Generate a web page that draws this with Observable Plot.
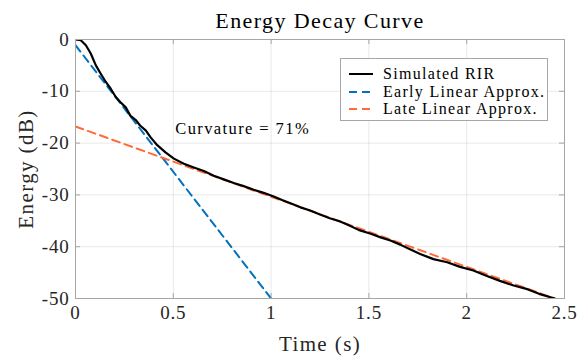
<!DOCTYPE html>
<html>
<head>
<meta charset="utf-8">
<script src="https://cdn.jsdelivr.net/npm/d3@7"></script>
<script src="https://cdn.jsdelivr.net/npm/@observablehq/plot@0.6"></script>
</head>
<body style="margin:0;padding:0;background:#fff">
<div id="wrap" style="position:relative;width:584px;height:358px;font-family:'Liberation Serif',serif;color:#000"></div>
<script>
// ---- data ----
const rirTime = [0, 0.027, 0.053, 0.078, 0.104, 0.129, 0.155, 0.18, 0.206, 0.23, 0.257, 0.28, 0.31, 0.33, 0.36, 0.384, 0.418, 0.46, 0.503, 0.554, 0.605, 0.656, 0.707, 0.758, 0.809, 0.86, 0.911, 0.962, 1.013, 1.056, 1.099, 1.15, 1.20, 1.25, 1.30, 1.35, 1.40, 1.45, 1.51, 1.56, 1.61, 1.66, 1.71, 1.762, 1.83, 1.90, 1.966, 2.034, 2.10, 2.17, 2.24, 2.31, 2.37, 2.45];
const rirEnergy = [0, -0.15, -1.1, -2.7, -5.0, -6.6, -8.2, -9.5, -11.1, -12.1, -13.1, -14.7, -15.6, -16.6, -17.6, -18.9, -20.4, -21.8, -23.0, -24.0, -24.7, -25.4, -26.3, -27.0, -27.7, -28.3, -29.0, -29.6, -30.3, -31.0, -31.6, -32.4, -33.0, -33.8, -34.5, -35.1, -35.9, -36.8, -37.5, -38.2, -38.8, -39.6, -40.5, -41.4, -42.4, -43.0, -43.9, -44.6, -45.6, -46.6, -47.5, -48.2, -49.1, -50.0];
const earlyTime = [0, 1.0];
const earlyEnergy = [-1.1, -50];
const lateTime = [0, 2.45];
const lateEnergy = [-16.8, -50];
const xTicks = [0, 0.5, 1, 1.5, 2, 2.5];
const yTicks = [-50, -40, -30, -20, -10, 0];
const seriesNames = ["Simulated RIR", "Early Linear Approx.", "Late Linear Approx."];
const seriesColors = ["#000000", "#0072BD", "#FF6A38"];
const annotation = {x: 0.51, y: -17.3, text: "Curvature = 71%"};
const titleText = "Energy Decay Curve";
const xLabel = "Time (s)";
const yLabel = "Energy (dB)";

const rir = rirTime.map((t, i) => ({t, e: rirEnergy[i]}));
const early = earlyTime.map((t, i) => ({t, e: earlyEnergy[i]}));
const late = lateTime.map((t, i) => ({t, e: lateEnergy[i]}));

const W = 584, H = 358, mL = 75, mR = 20, mT = 39, mB = 60;
const pw = W - mL - mR, ph = H - mT - mB;
const font = "'Liberation Serif', 'Times New Roman', serif";
const ink = "#262626";
const axisGray = "#a6a6a6";
const fmt = d => String(d);

const chart = Plot.plot({
  width: W, height: H,
  marginLeft: mL, marginRight: mR, marginTop: mT, marginBottom: mB,
  style: {fontFamily: font, background: "#fff"},
  x: {domain: [0, 2.5], ticks: xTicks},
  y: {domain: [-50, 0], ticks: yTicks},
  marks: [
    Plot.gridX(xTicks, {stroke: "#000", strokeOpacity: 0.09}),
    Plot.gridY(yTicks, {stroke: "#000", strokeOpacity: 0.09}),
    Plot.line(early, {x: "t", y: "e", stroke: seriesColors[1], strokeWidth: 2, strokeDasharray: "8,5", clip: true}),
    Plot.line(late, {x: "t", y: "e", stroke: seriesColors[2], strokeWidth: 2, strokeDasharray: "8,5", clip: true}),
    Plot.line(rir, {x: "t", y: "e", stroke: seriesColors[0], strokeWidth: 2.2, clip: true}),
    Plot.frame({stroke: axisGray}),
    Plot.tickX(xTicks, {x: d => d, insetTop: ph - 5, stroke: axisGray}),
    Plot.tickX(xTicks, {x: d => d, insetBottom: ph - 5, stroke: axisGray}),
    Plot.tickY(yTicks, {y: d => d, insetRight: pw - 5, stroke: axisGray}),
    Plot.tickY(yTicks, {y: d => d, insetLeft: pw - 5, stroke: axisGray}),
    Plot.axisX(xTicks, {tickSize: 0, tickPadding: 7, tickFormat: fmt, fontSize: 19, color: ink, label: null}),
    Plot.axisY(yTicks, {tickSize: 0, tickPadding: 6, tickFormat: fmt, fontSize: 19, color: ink, label: null}),
    Plot.text([annotation], {x: "x", y: "y", text: "text", textAnchor: "start", fontSize: 16.5, fill: "#000"}),
    Plot.text([titleText], {frameAnchor: "top", dy: -19, lineAnchor: "middle", textAnchor: "middle", fontSize: 22, fill: "#000"}),
    Plot.text([xLabel], {frameAnchor: "bottom", dy: 46, lineAnchor: "middle", textAnchor: "middle", fontSize: 21, fill: ink}),
    Plot.text([yLabel], {frameAnchor: "left", dx: -49, rotate: -90, lineAnchor: "middle", textAnchor: "middle", fontSize: 21, fill: ink})
  ]
});

const wrap = document.getElementById("wrap");
wrap.appendChild(chart);

// serif face on every text node, with letter spacing to approximate Computer Modern widths
d3.select(chart).selectAll("text").each(function () {
  this.style.fontFamily = font;
  this.setAttribute("font-family", font);
  this.style.letterSpacing = "1.4px";
});
d3.select(chart).selectAll('g[aria-label$="tick label"] text').each(function () {
  this.style.letterSpacing = "0.8px";
});

const legend = document.createElement("div");
legend.style.cssText = "position:absolute;left:340px;top:58px;width:208px;height:63px;background:#fff;border:1px solid #a6a6a6;box-sizing:border-box;font-size:16px;letter-spacing:1.3px;font-family:" + font;
seriesNames.forEach((name, i) => {
  const row = document.createElement("div");
  row.style.cssText = "position:absolute;left:8px;height:18px;display:flex;align-items:center;white-space:nowrap;top:" + (6 + i * 17.5) + "px";
  const dash = i === 0 ? "" : `stroke-dasharray="8,5"`;
  row.innerHTML = `<svg width="24" height="4" style="margin-right:10px"><line x1="0" y1="2" x2="24" y2="2" stroke="${seriesColors[i]}" stroke-width="2" ${dash}/></svg>`;
  const span = document.createElement("span");
  span.textContent = name;
  span.style.fontFamily = font;
  row.appendChild(span);
  legend.appendChild(row);
});
wrap.appendChild(legend);
</script>
</body>
</html>
